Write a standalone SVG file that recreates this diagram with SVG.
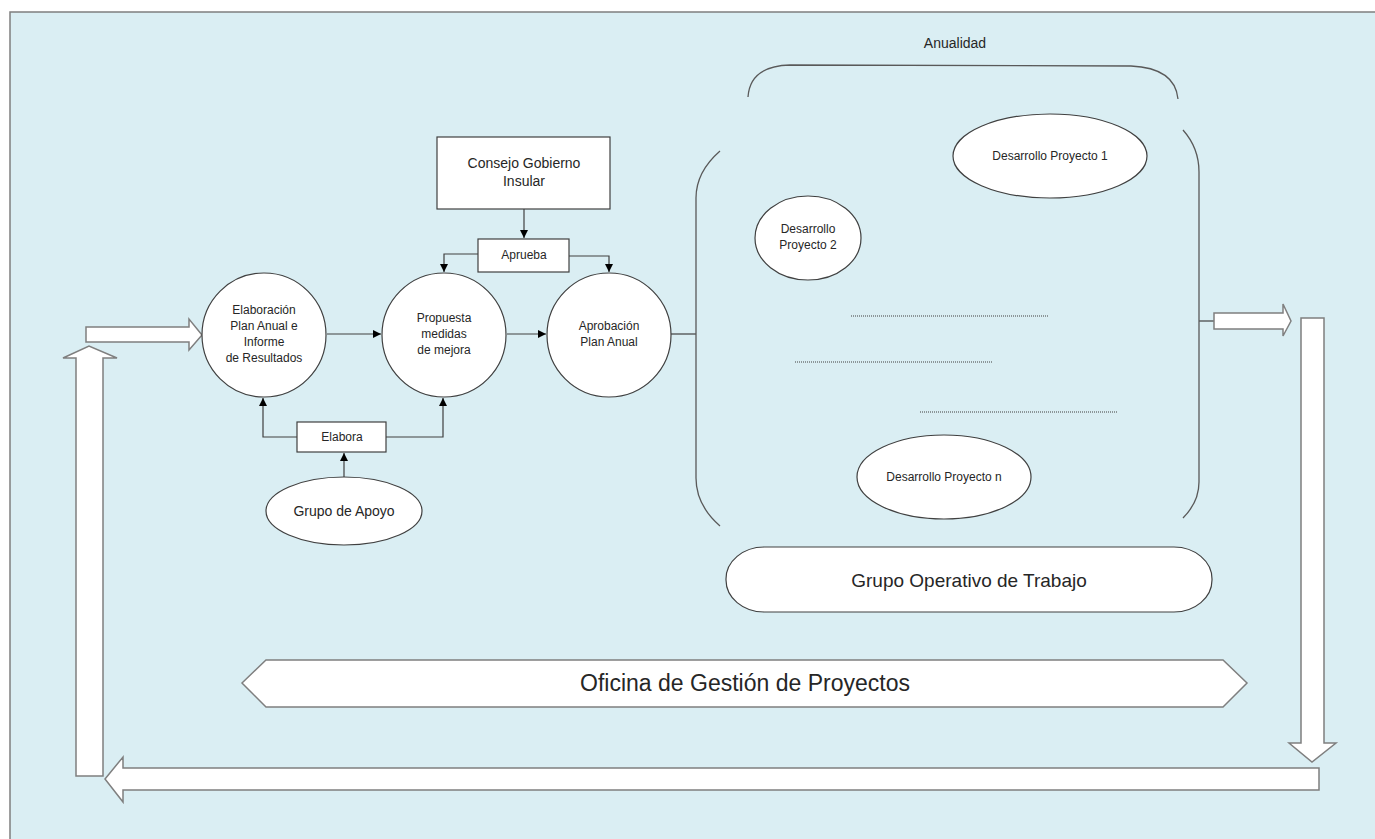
<svg xmlns="http://www.w3.org/2000/svg" width="1375" height="839" viewBox="0 0 1375 839">
<style>
.bg{fill:#DAEEF3;stroke:#7f7f7f;stroke-width:1.5}
.sh{fill:#ffffff;stroke:#404040;stroke-width:1.2}
.blk{fill:#ffffff;stroke:#7f7f7f;stroke-width:1.5}
.br{fill:none;stroke:#595959;stroke-width:1.3}
.ln{fill:none;stroke:#404040;stroke-width:1.2}
.dot{fill:none;stroke:#404040;stroke-width:1.2;stroke-dasharray:1 1}
text{font-family:"Liberation Sans",Arial,sans-serif;fill:#262626;text-anchor:middle;dominant-baseline:middle}
.s12{font-size:12px}
.s14{font-size:14px}
</style>
<defs>
<marker id="ah" viewBox="0 0 10 10" refX="10" refY="5" markerWidth="8" markerHeight="8" markerUnits="userSpaceOnUse" orient="auto">
<path d="M0,0 L10,5 L0,10 z" fill="#000000"/>
</marker>
</defs>
<rect class="bg" x="10" y="12" width="1380" height="840"/>

<g id="connectors">
<line class="ln" x1="327" y1="334" x2="381" y2="334" marker-end="url(#ah)"/>
<line class="ln" x1="507" y1="334" x2="546" y2="334" marker-end="url(#ah)"/>
<line class="ln" x1="671" y1="334" x2="696" y2="334"/>
<line class="ln" x1="524" y1="209" x2="524" y2="238" marker-end="url(#ah)"/>
<polyline class="ln" points="478,254 444,254 444,272" marker-end="url(#ah)"/>
<polyline class="ln" points="569,256 609,256 609,272" marker-end="url(#ah)"/>
<polyline class="ln" points="297,437 263,437 263,398" marker-end="url(#ah)"/>
<polyline class="ln" points="386,437 443,437 443,398" marker-end="url(#ah)"/>
<line class="ln" x1="344" y1="477" x2="344" y2="453" marker-end="url(#ah)"/>
<line class="ln" x1="1199" y1="321" x2="1214" y2="321"/>
<line class="dot" x1="851" y1="316" x2="1049" y2="316"/>
<line class="dot" x1="795" y1="362" x2="993" y2="362"/>
<line class="dot" x1="920" y1="412" x2="1118" y2="412"/>
</g>

<g id="brackets">
<path class="br" d="M748,97 Q750,66 790,65 L1131,66 Q1175,68 1178,99"/>
<path class="br" d="M720,151 Q696,172 696,198 L696,478 Q696,505 720,526"/>
<path class="br" d="M1183,130 Q1199,148 1199,172 L1199,482 Q1199,502 1183,518"/>
</g>

<g id="anualidad"><text class="s14" x="955" y="44">Anualidad</text></g>

<g id="block-arrows">
<polygon class="blk" points="86,327 189,327 189,319 202,335 189,350 189,342 86,342"/>
<polygon class="blk" points="76,776 76,358 63,358 89,346 117,358 103,358 103,776"/>
<polygon class="blk" points="1319,768 123,768 123,757 105,779 123,802 123,790 1319,790"/>
<polygon class="blk" points="1301,318 1324,318 1324,743 1336,743 1312,762 1289,743 1301,743"/>
<polygon class="blk" points="1214,313 1283,313 1283,304 1291,321 1283,336 1283,329 1214,329"/>
</g>

<g id="elaboracion">
<circle class="sh" cx="264" cy="335" r="62"/>
<text class="s12" x="264" y="311">Elaboración</text>
<text class="s12" x="264" y="327">Plan Anual e</text>
<text class="s12" x="264" y="343">Informe</text>
<text class="s12" x="264" y="359">de Resultados</text>
</g>
<g id="propuesta">
<circle class="sh" cx="444" cy="335" r="62"/>
<text class="s12" x="444" y="319">Propuesta</text>
<text class="s12" x="444" y="335">medidas</text>
<text class="s12" x="444" y="351">de mejora</text>
</g>
<g id="aprobacion">
<circle class="sh" cx="609" cy="335" r="62"/>
<text class="s12" x="609" y="327">Aprobación</text>
<text class="s12" x="609" y="343">Plan Anual</text>
</g>
<g id="consejo">
<rect class="sh" x="437" y="137" width="173" height="72"/>
<text class="s14" x="524" y="164">Consejo Gobierno</text>
<text class="s14" x="524" y="182">Insular</text>
</g>
<g id="aprueba">
<rect class="sh" x="478" y="239" width="91" height="33"/>
<text class="s12" x="524" y="256">Aprueba</text>
</g>
<g id="elabora">
<rect class="sh" x="297" y="422" width="89" height="30"/>
<text class="s12" x="342" y="438">Elabora</text>
</g>
<g id="grupo-apoyo">
<ellipse class="sh" cx="344" cy="511" rx="78" ry="34"/>
<text class="s14" x="344" y="512">Grupo de Apoyo</text>
</g>
<g id="proyecto1">
<ellipse class="sh" cx="1050" cy="156" rx="97" ry="42"/>
<text class="s12" x="1050" y="157">Desarrollo Proyecto 1</text>
</g>
<g id="proyecto2">
<ellipse class="sh" cx="808" cy="238" rx="53" ry="42"/>
<text class="s12" x="808" y="230">Desarrollo</text>
<text class="s12" x="808" y="246">Proyecto 2</text>
</g>
<g id="proyecton">
<ellipse class="sh" cx="944" cy="477" rx="87" ry="42"/>
<text class="s12" x="944" y="478">Desarrollo Proyecto n</text>
</g>
<g id="grupo-operativo">
<rect class="sh" x="726" y="547" width="486" height="65" rx="38" ry="32"/>
<text x="969" y="582" style="font-size:19px">Grupo Operativo de Trabajo</text>
</g>
<g id="oficina">
<polygon class="blk" points="242,683 266,660 1223,660 1247,683 1223,707 266,707"/>
<text x="745" y="685" style="font-size:23px">Oficina de Gestión de Proyectos</text>
</g>
</svg>
